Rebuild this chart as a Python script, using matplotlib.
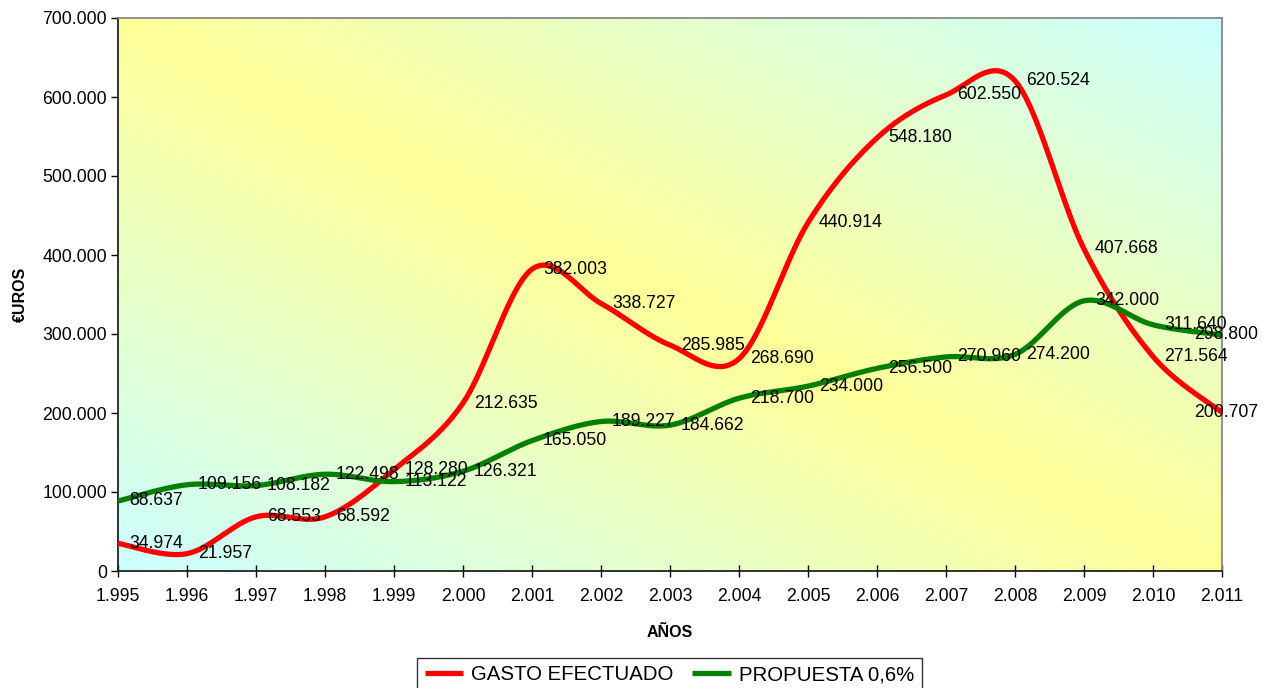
import numpy as np
import matplotlib
matplotlib.use("Agg")
import matplotlib.pyplot as plt
from matplotlib.ticker import FuncFormatter

plt.rcParams["font.family"] = ["Liberation Sans", "DejaVu Sans"]

years = list(range(1995, 2012))
gasto = [34974, 21957, 68553, 68592, 128280, 212635, 382003, 338727, 285985,
         268690, 440914, 548180, 602550, 620524, 407668, 271564, 200707]
propuesta = [88637, 109156, 108182, 122498, 113122, 126321, 165050, 189227, 184662,
             218700, 234000, 256500, 270960, 274200, 342000, 311640, 298800]
series_names = ["GASTO EFECTUADO", "PROPUESTA 0,6%"]
series_colors = ["#ff0000", "#008000"]


def thousands(v):
    return f"{int(round(v)):,}".replace(",", ".")


def smooth(x, y, n=40):
    # Excel-like smoothed line: Catmull-Rom segments as cubic Beziers
    p = np.column_stack([x, y]).astype(float)
    pts = np.vstack([p[0], p, p[-1]])
    out = []
    t = np.linspace(0, 1, n)[:, None]
    for i in range(1, len(pts) - 2):
        p0, p1, p2, p3 = pts[i - 1], pts[i], pts[i + 1], pts[i + 2]
        b1 = p1 + (p2 - p0) / 6.0
        b2 = p2 - (p3 - p1) / 6.0
        seg = ((1 - t) ** 3) * p1 + 3 * ((1 - t) ** 2) * t * b1 + 3 * (1 - t) * t ** 2 * b2 + t ** 3 * p2
        out.append(seg if i == 1 else seg[1:])
    out = np.vstack(out)
    return out[:, 0], out[:, 1]


fig = plt.figure(figsize=(12.72, 6.88), dpi=100)
ax = fig.add_axes([118 / 1272, 1 - 571 / 688, 1104 / 1272, 553 / 688])

# diagonal gradient background: yellow along the main diagonal, cyan in other corners
gx, gy = np.meshgrid(np.linspace(0, 1, 400), np.linspace(0, 1, 300))
d = np.abs(gx - gy)[..., None]
yellow = np.array([255, 255, 153]) / 255
cyan = np.array([204, 255, 255]) / 255
grad = yellow * (1 - d) + cyan * d
ax.imshow(grad, extent=[0, 1, 0, 1], transform=ax.transAxes, aspect="auto",
          origin="upper", zorder=0)

for vals, name, col in zip([gasto, propuesta], series_names, series_colors):
    sx, sy = smooth(years, vals)
    ax.plot(sx, sy, color=col, lw=3.8, label=name, zorder=3, solid_capstyle="butt")

for vals in [gasto, propuesta]:
    for i, (xv, yv) in enumerate(zip(years, vals)):
        if i == len(vals) - 1:
            ax.annotate(thousands(yv), (xv, yv), xytext=(3, 0), textcoords="offset points",
                        ha="center", va="center", fontsize=12.7, zorder=4,
                        annotation_clip=False)
        else:
            ax.annotate(thousands(yv), (xv, yv), xytext=(8, 0), textcoords="offset points",
                        ha="left", va="center", fontsize=12.7, zorder=4)

ax.set_xlim(1995, 2011)
ax.set_ylim(0, 700000)
ax.set_xticks(years)
ax.set_xticklabels([thousands(y) for y in years])
ax.set_yticks(np.arange(0, 700001, 100000))
ax.yaxis.set_major_formatter(FuncFormatter(lambda v, p: thousands(v)))
ax.tick_params(axis="x", direction="inout", length=9, width=1, labelsize=12.7, pad=8)
ax.tick_params(axis="y", direction="out", length=5, width=1, labelsize=12.7, pad=3)

for s in ["left", "bottom"]:
    ax.spines[s].set_color("#222222")
    ax.spines[s].set_linewidth(1.3)
for s in ["top", "right"]:
    ax.spines[s].set_color("#888888")
    ax.spines[s].set_linewidth(1.3)

ax.set_xlabel("AÑOS", fontsize=11.5, fontweight="bold", labelpad=14)
ax.set_ylabel("€UROS", fontsize=11.5, fontweight="bold")
ax.yaxis.set_label_coords(-0.082, 0.5)

leg = fig.legend(loc="upper center", bbox_to_anchor=(669.5 / 1272, 1 - 658 / 688),
                 ncol=2, frameon=True, fancybox=False, fontsize=14.7,
                 handlelength=1.9, handletextpad=0.4, columnspacing=0.9,
                 borderpad=0.35, borderaxespad=0)
leg.get_frame().set_edgecolor("black")
leg.get_frame().set_linewidth(1.0)

fig.savefig("out.png", dpi=100)
